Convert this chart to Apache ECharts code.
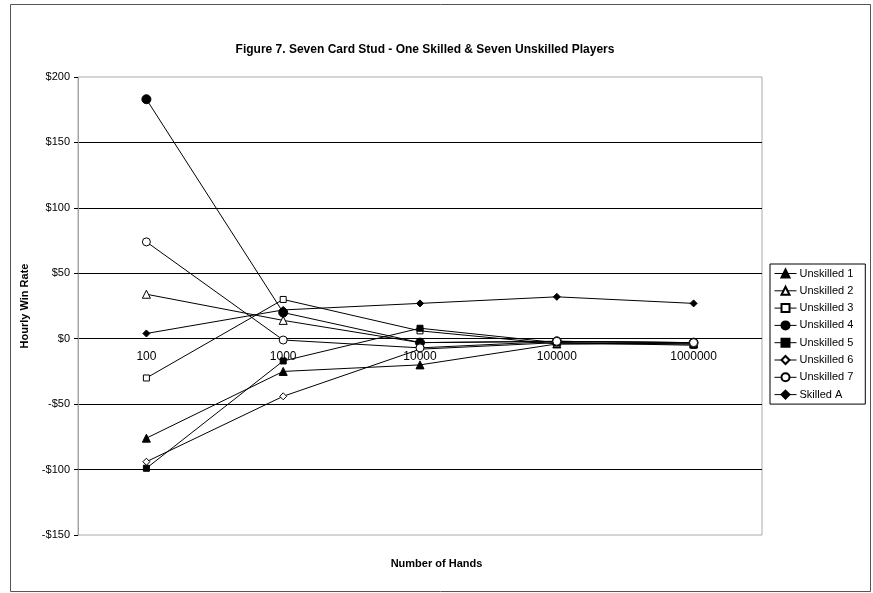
<!DOCTYPE html>
<html><head><meta charset="utf-8">
<script src="https://cdn.jsdelivr.net/npm/echarts@6/dist/echarts.min.js"></script>
<style>html,body{margin:0;padding:0;background:#fff}#c{width:873px;height:593px}</style>
</head><body><div id="c"></div>
<script>
var categories = ['100', '1000', '10000', '100000', '1000000'];
var unskilled1 = [-76, -25, -20, -4, -4];
var unskilled2 = [34, 14, -3, -2, -3];
var unskilled3 = [-30, 30, 6, -4, -3];
var unskilled4 = [183, 20, -3, -2, -3];
var unskilled5 = [-99, -17, 8, -3, -5];
var unskilled6 = [-94, -44, -8, -3, -4];
var unskilled7 = [74, -1, -7, -2, -3];
var skilledA = [4, 22, 27, 32, 27];
var seriesNames = ['Unskilled 1','Unskilled 2','Unskilled 3','Unskilled 4','Unskilled 5','Unskilled 6','Unskilled 7','Skilled A'];
var seriesData = [unskilled1, unskilled2, unskilled3, unskilled4, unskilled5, unskilled6, unskilled7, skilledA];
var styles = [
  {symbol:'triangle', size:8, fill:'#000'},
  {symbol:'triangle', size:8, fill:'#fff'},
  {symbol:'rect', size:6, fill:'#fff'},
  {symbol:'circle', size:9, fill:'#000'},
  {symbol:'rect', size:6, fill:'#000'},
  {symbol:'diamond', size:7, fill:'#fff'},
  {symbol:'circle', size:8, fill:'#fff'},
  {symbol:'diamond', size:7, fill:'#000'}
];
var font = '"Liberation Sans", Arial, sans-serif';
var chart = echarts.init(document.getElementById('c'), null, {renderer:'canvas'});
var series = seriesNames.map(function(n, i){
  return {
    name: n, type: 'line', data: seriesData[i],
    symbol: styles[i].symbol, symbolSize: styles[i].size, showAllSymbol: true,
    lineStyle: {color:'#000', width:1},
    itemStyle: {color: styles[i].fill, borderColor:'#000', borderWidth:1},
    emphasis: {disabled:true}, animation:false
  };
});
chart.setOption({
  animation: false,
  backgroundColor: '#fff',
  title: {text: 'Figure 7. Seven Card Stud - One Skilled & Seven Unskilled Players', left: 420, textAlign:'center', top: 39,
    textStyle: {fontFamily: font, fontSize: 12, fontWeight:'bold', color:'#000'}},
  grid: {left: 78, right: 111, top: 77, bottom: 58, containLabel: false, outerBoundsMode: 'none',
    show: true, borderColor: '#aaa', borderWidth: 1, backgroundColor:'#fff'},
  legend: {orient:'vertical', left: 770, top: 264, itemWidth: 22, itemHeight: 10, itemGap: 6.3,
    padding: [4, 12, 4, 4], borderColor:'#000', borderWidth:1, backgroundColor:'#fff',
    lineStyle: {width: 1},
    textStyle:{fontFamily: font, fontSize: 11, color:'#000', padding:[0,0,0,-2]}, data: seriesNames},
  xAxis: {type:'category', data: categories, boundaryGap: true, offset: -196,
    axisLine:{show:false, onZero:false},
    axisTick:{show:false},
    axisLabel:{fontFamily: font, fontSize: 12, color:'#000', margin: 12},
    splitLine:{show:false}},
  yAxis: {type:'value', min:-150, max:200, interval:50, name:'Hourly Win Rate', nameLocation:'middle', nameGap: 42,
    nameTextStyle:{fontFamily: font, fontSize: 11, fontWeight:'bold', color:'#000'},
    axisLine:{show:true, lineStyle:{color:'#999', type:'dotted'}},
    axisTick:{show:true, length:4, lineStyle:{color:'#000'}},
    axisLabel:{fontFamily: font, fontSize: 11, color:'#000', margin: 8,
      formatter: function(v){ return (v < 0 ? '-$' : '$') + Math.abs(v); }},
    splitLine:{show:true, showMinLine:false, showMaxLine:false, lineStyle:{color:'#000', width:1}}},
  graphic: [
    {type:'rect', left: 8, top: 2, shape:{width: 860, height: 587}, style:{fill:'none', stroke:'#555', lineWidth:1}, silent:true, z:-1},
    {type:'text', left: 'center', top: 558, style:{text:'Number of Hands', font:'bold 11px "Liberation Sans", Arial, sans-serif', fill:'#000'}, silent:true}
  ],
  series: series
});
</script></body></html>
